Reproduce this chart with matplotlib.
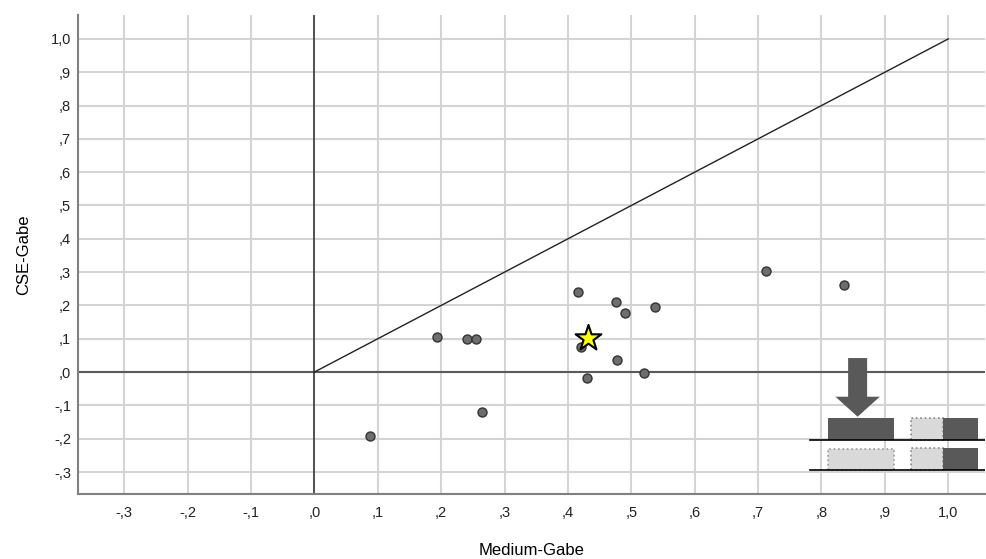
import matplotlib
matplotlib.use("Agg")
import matplotlib.pyplot as plt
from matplotlib.patches import Rectangle, Polygon

plt.rcParams['font.family'] = ['Liberation Sans', 'DejaVu Sans']

# data
medium_gabe = [0.088, 0.194, 0.241, 0.255, 0.265, 0.416, 0.420, 0.430, 0.476,
               0.477, 0.490, 0.537, 0.520, 0.712, 0.836]
cse_gabe = [-0.192, 0.105, 0.099, 0.099, -0.120, 0.240, 0.075, -0.018, 0.210,
            0.036, 0.178, 0.195, -0.003, 0.303, 0.261]
mean_x = [0.432]
mean_y = [0.101]
diag_x = [0.0, 1.0]
diag_y = [0.0, 1.0]
x_ticks = [-0.3, -0.2, -0.1, 0.0, 0.1, 0.2, 0.3, 0.4, 0.5, 0.6, 0.7, 0.8, 0.9, 1.0]
x_tick_labels = ['-,3', '-,2', '-,1', ',0', ',1', ',2', ',3', ',4', ',5', ',6', ',7', ',8', ',9', '1,0']
y_ticks = [-0.3, -0.2, -0.1, 0.0, 0.1, 0.2, 0.3, 0.4, 0.5, 0.6, 0.7, 0.8, 0.9, 1.0]
y_tick_labels = ['-,3', '-,2', '-,1', ',0', ',1', ',2', ',3', ',4', ',5', ',6', ',7', ',8', ',9', '1,0']

fig = plt.figure(figsize=(9.87, 5.59), dpi=100)
ax = fig.add_axes([0.079, 0.1163, 0.919, 0.857])
ax.set_xlim(-0.373, 1.058)
ax.set_ylim(-0.366, 1.072)

ax.set_xticks(x_ticks)
ax.set_xticklabels(x_tick_labels)
ax.set_yticks(y_ticks)
ax.set_yticklabels(y_tick_labels)
ax.tick_params(length=0, labelsize=10.5, colors='#222222')
ax.tick_params(axis='y', pad=5)
ax.tick_params(axis='x', pad=9)
ax.grid(True, color='#d4d4d4', linewidth=1.5, zorder=0)
ax.set_axisbelow(True)
for s in ['top', 'right']:
    ax.spines[s].set_visible(False)
for s in ['left', 'bottom']:
    ax.spines[s].set_color('#808080')
    ax.spines[s].set_linewidth(1.5)

ax.axhline(0, color='#5a5a5a', linewidth=1.5, zorder=1)
ax.axvline(0, color='#3a3a3a', linewidth=1.2, zorder=1)
ax.plot(diag_x, diag_y, color='#222222', linewidth=1.0, zorder=2)

ax.scatter(medium_gabe, cse_gabe, s=42, facecolor='#6e6e6e', edgecolor='#333333',
           linewidth=1.0, zorder=4)
ax.scatter(mean_x, mean_y, marker='*', s=380, facecolor='#ffff00', edgecolor='black',
           linewidth=1.5, zorder=5)

ax.set_xlabel('Medium-Gabe', fontsize=12, labelpad=16)
ax.set_ylabel('CSE-Gabe', fontsize=12, labelpad=14)

# inset pictogram (decoration)
dark = '#595959'
light = '#d9d9d9'
arrow = Polygon([(0.842, 0.042), (0.872, 0.042), (0.872, -0.074), (0.892, -0.074),
                 (0.857, -0.134), (0.822, -0.074), (0.842, -0.074)],
                closed=True, facecolor=dark, edgecolor='none', zorder=6)
ax.add_patch(arrow)
ax.add_patch(Rectangle((0.810, -0.204), 0.104, 0.067, facecolor=dark, edgecolor='none', zorder=6))
ax.add_patch(Rectangle((0.942, -0.204), 0.050, 0.067, facecolor=light, edgecolor='#888888',
                       linestyle=':', linewidth=1.2, zorder=6))
ax.add_patch(Rectangle((0.992, -0.204), 0.055, 0.067, facecolor=dark, edgecolor='none', zorder=6))
ax.add_patch(Rectangle((0.810, -0.294), 0.104, 0.064, facecolor=light, edgecolor='#999999',
                       linestyle=':', linewidth=1.2, zorder=6))
ax.add_patch(Rectangle((0.942, -0.294), 0.050, 0.066, facecolor=light, edgecolor='#888888',
                       linestyle=':', linewidth=1.2, zorder=6))
ax.add_patch(Rectangle((0.992, -0.294), 0.055, 0.066, facecolor=dark, edgecolor='none', zorder=6))
ax.plot([0.782, 1.058], [-0.205, -0.205], color='black', linewidth=1.2, zorder=6)
ax.plot([0.782, 1.058], [-0.295, -0.295], color='black', linewidth=1.2, zorder=6)

fig.savefig('out.png', dpi=100)
